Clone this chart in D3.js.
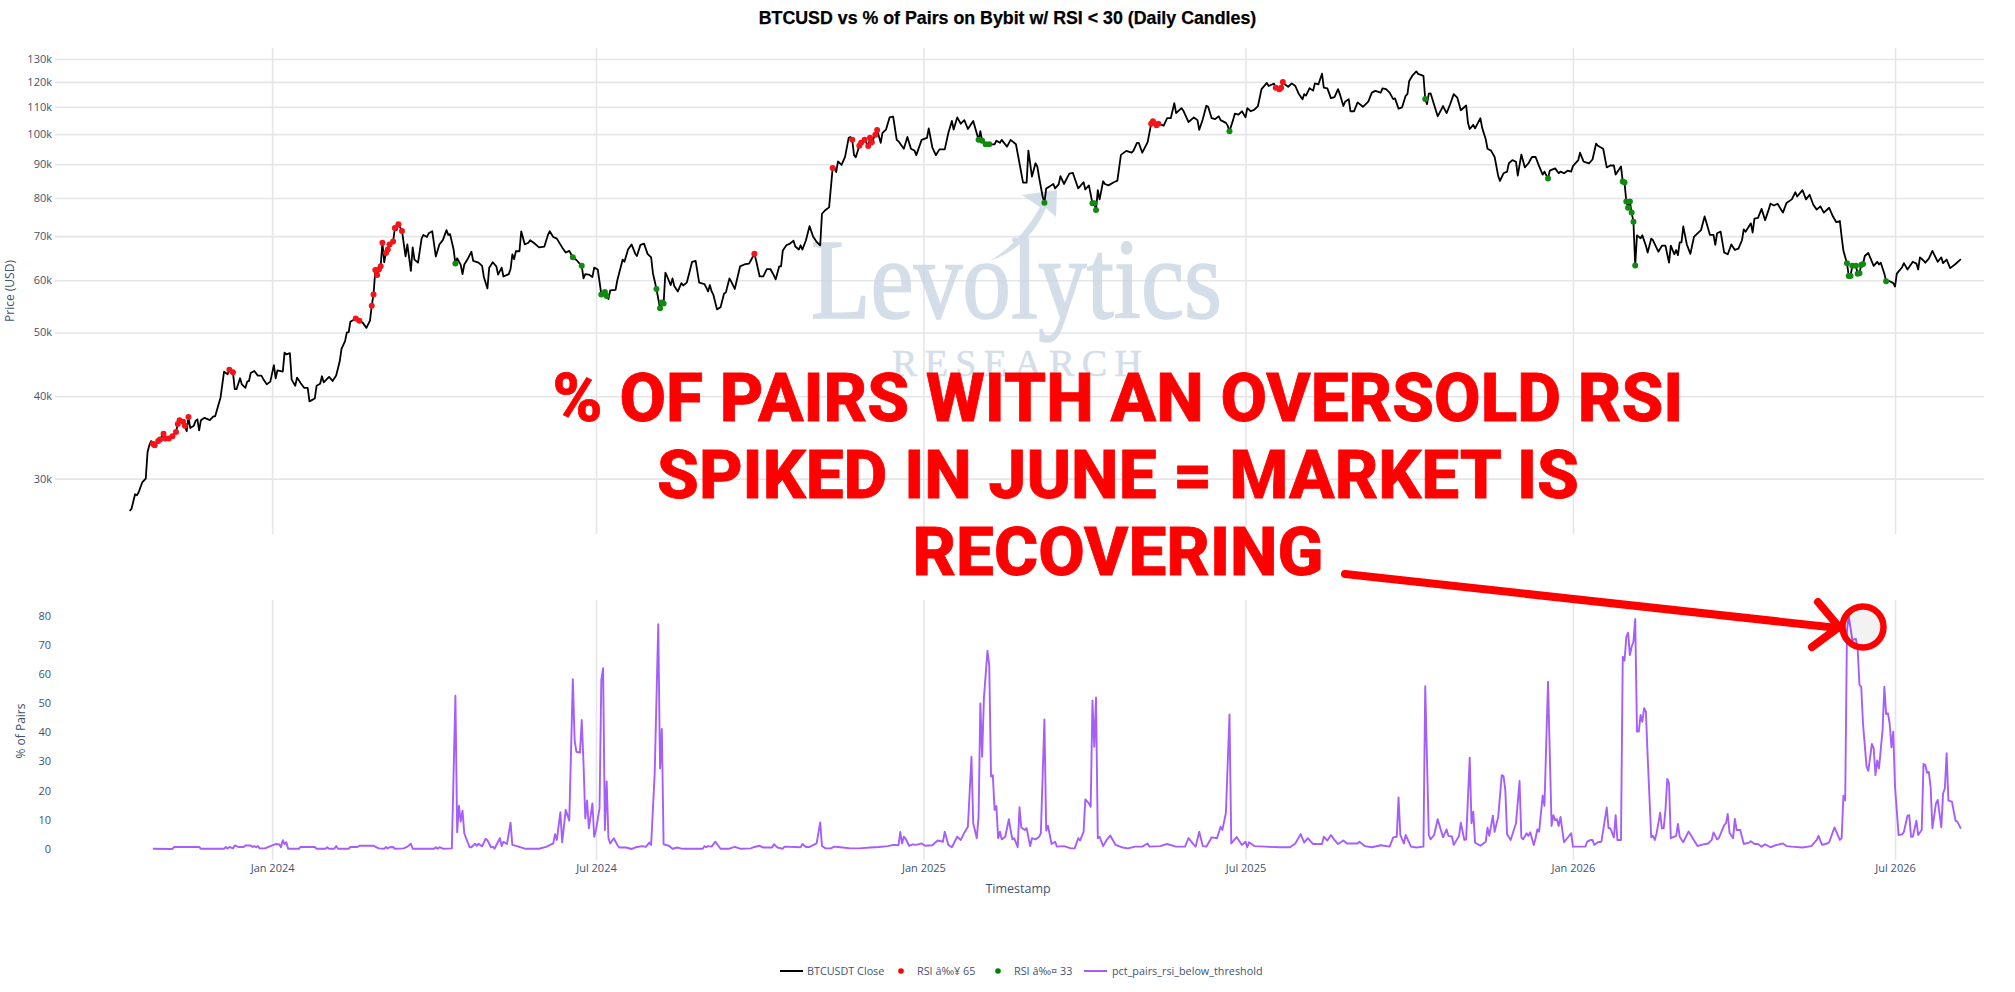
<!DOCTYPE html>
<html><head><meta charset="utf-8">
<style>html,body{margin:0;padding:0;background:#fff}svg{display:block}</style>
<script src="https://cdnjs.cloudflare.com/ajax/libs/d3/7.8.5/d3.min.js"></script>
</head><body><div id="chart"></div>
<script>
// [days since 2024-01-01, BTCUSDT close in thousands of USD]
const btcClose = [[-80,26.8],[-79,27],[-77,28.4],[-76,28.3],[-75,28.6],[-73,29.6],[-71,30],[-70,32.9],[-69,33.7],[-68,34.2],[-67,33.9],[-66,33.7],[-64,34.2],[-63,34.4],[-61,35.1],[-60,34.5],[-58,34.5],[-56,34.8],[-54,35.3],[-53,36.3],[-52,36.8],[-50,36.6],[-49,36.1],[-48,35.4],[-47,37.2],[-46,35.8],[-44,36.1],[-43,36.7],[-42,36.9],[-41,35.5],[-40,36.8],[-38,37.1],[-35,36.8],[-33,37.3],[-32,37.3],[-29,39.8],[-27,43.6],[-25,43.2],[-24,43.9],[-22,43.5],[-21,41],[-20,41],[-18,42.6],[-17,41.7],[-15,41.2],[-14,42.1],[-13,42.2],[-12,43.4],[-10,43.7],[-8,43],[-6,43],[-5,42.5],[-3,41.7],[-1,42.1],[1,44.6],[2,42.6],[3,43.8],[6,43.6],[7,46.6],[8,46.3],[10,46.5],[11,42.4],[13,41.5],[14,42.7],[16,41.9],[18,41.2],[20,41.2],[21,39.3],[24,39.7],[25,41.5],[27,41.8],[28,42.9],[29,42],[32,42.8],[34,42.2],[36,43],[38,45.2],[39,47.2],[41,48.5],[42,50],[43,50],[44,51.9],[47,52.5],[49,52.1],[51,51.7],[53,50.8],[55,52.1],[56,54.9],[57,57.1],[58,62.2],[59,61.1],[60,62.3],[61,63],[62,68.4],[63,63.9],[64,66],[65,66.8],[66,68],[68,68.7],[69,72],[70,71.5],[71,73],[73,71.3],[75,65.2],[76,68],[78,62],[79,67.3],[80,64.5],[82,63.8],[84,69.4],[85,70.3],[87,69.8],[88,70.7],[90,71.2],[92,65.2],[94,68],[96,69.1],[98,71.5],[99,70.3],[100,70.5],[102,66.8],[103,63.6],[104,64.8],[106,63.3],[107,61.3],[108,63.4],[110,64.7],[112,66.3],[113,64.2],[116,63.8],[118,63.1],[119,60.7],[121,58.3],[122,62.7],[124,63.9],[126,63],[127,61.2],[129,62.7],[130,60.8],[133,61.3],[134,62.4],[135,65.7],[136,64.6],[137,66.4],[139,66.4],[140,71.2],[142,68],[144,68.4],[145,69],[147,68.4],[150,67.3],[153,67.5],[155,70.3],[156,71.2],[158,69.8],[160,69.4],[163,67.3],[165,66.1],[167,66.5],[169,65],[171,64.4],[174,63.1],[175,60.4],[176,61.3],[178,61.2],[180,60.7],[181,62.7],[183,62.3],[184,59.7],[185,57.1],[187,57.6],[188,56.8],[189,56.2],[190,57.9],[193,58],[194,60],[197,64.5],[198,64],[200,66.8],[202,68],[204,65.9],[205,65.3],[207,67.9],[209,68.2],[211,65.8],[213,65],[214,61.5],[216,58.2],[218,54.4],[219,55.5],[220,55.3],[221,61.6],[222,60.8],[224,59],[225,60.4],[226,58.8],[228,57.7],[230,59.4],[231,58.9],[233,59.5],[234,60.9],[236,64],[238,64.2],[240,59.5],[243,59.2],[245,57.7],[246,59],[247,57.7],[248,57],[250,54.2],[252,54.6],[254,57.3],[255,57.5],[257,60.4],[258,59.7],[260,58.2],[263,63],[266,63.5],[268,63.6],[269,64.3],[271,65.8],[272,64.3],[274,60.8],[276,60.8],[278,62.4],[280,62.4],[282,61],[283,60.2],[285,63],[286,63],[287,66.6],[289,67.8],[291,68.2],[293,68.9],[294,67.5],[296,66.8],[297,67.8],[298,66.8],[300,69],[302,72.5],[304,69.9],[306,68.6],[308,67.8],[309,75.7],[311,76.7],[313,77.4],[315,88.8],[316,88.9],[317,87.6],[318,90.9],[320,89.8],[322,92.4],[324,98.7],[325,99],[326,98],[327,93],[328,92.2],[330,96],[331,97],[333,98],[335,95.9],[336,98.7],[337,97.2],[339,99.8],[340,101.4],[342,97],[343,100.4],[345,101.6],[347,106],[349,106.3],[351,98],[352,97.5],[355,95],[357,99],[359,95],[361,94.4],[362,92.9],[365,98],[368,98.7],[369,102],[371,95.5],[373,92.9],[375,94.8],[378,94.8],[380,100.4],[382,104.7],[383,101.6],[385,106],[387,103.7],[389,105],[391,101.8],[394,104.7],[397,98],[398,101],[399,97.7],[401,96.5],[403,96.5],[406,96.5],[407,97.7],[409,97],[410,98],[413,95.7],[415,98],[417,97],[418,96.5],[420,90.3],[422,84.4],[424,84.4],[425,94.4],[427,86.2],[429,90.3],[430,89.3],[431,86],[433,80.4],[434,78.7],[435,82.7],[437,83.3],[439,84],[440,82.7],[442,83.9],[443,86.3],[445,84],[448,87.1],[450,87.3],[453,82.7],[456,84.5],[457,82.4],[459,83.6],[461,78.5],[462,78.5],[463,76.7],[464,82.2],[465,79.6],[467,84.8],[468,84],[470,83.6],[473,84.5],[475,85],[477,93],[480,94.3],[483,93.7],[484,94.3],[486,97],[487,97],[489,93.7],[492,97.2],[494,103.7],[495,104.6],[497,103.1],[498,103.7],[501,103],[503,105.7],[505,105.7],[507,111.4],[508,107.6],[511,109.5],[512,108.6],[515,104.3],[518,106],[520,105],[521,101.5],[523,105.3],[525,110.4],[526,110],[528,105.7],[530,105.4],[532,106.4],[533,105],[536,104],[537,103],[538,101],[540,105],[541,107.4],[543,107],[545,108.3],[547,106],[548,109.5],[550,108.3],[552,108.9],[554,110.3],[556,117],[559,119.6],[560,118.3],[563,119.3],[564,117.6],[566,117],[567,117.6],[568,120],[569,119],[571,118],[573,119.4],[575,118.3],[577,115],[579,112.9],[580,115],[581,114.4],[583,117.4],[585,116.4],[586,119.4],[588,119],[590,123.5],[591,117.6],[593,117.3],[595,113.4],[597,113.8],[599,117],[600,115],[602,110.3],[603,112],[605,113],[606,108.3],[608,108.3],[610,111.7],[613,110],[616,112],[618,115.6],[620,116.3],[623,115.6],[624,117.3],[626,117],[628,115.6],[630,113],[631,113.3],[633,109.3],[635,109.8],[637,114.3],[638,115],[639,120.4],[641,122.9],[643,124.5],[644,123.4],[647,122.6],[648,113],[649,111],[650,115.2],[651,115.3],[655,106.4],[657,108.9],[658,110.3],[660,107.6],[662,111],[664,115],[666,113.6],[668,108.7],[671,110.5],[672,104],[673,101.8],[675,103.3],[676,102],[679,105.7],[680,102.2],[682,98.2],[683,95],[685,94.4],[687,92.3],[689,86.4],[690,84.9],[692,87.2],[694,87.7],[695,90.3],[697,91.3],[699,90.8],[700,86.5],[702,93.1],[704,89],[706,90.3],[708,92.3],[710,92.3],[712,89.4],[714,86.8],[715,87.7],[717,85.6],[718,88],[721,88.7],[723,87.2],[724,87.7],[726,87.2],[728,88],[730,87.7],[731,89.4],[734,91.3],[735,93.7],[737,90.8],[740,90.3],[742,91.5],[744,96.7],[745,96],[748,95],[750,89],[752,89.6],[754,89.6],[755,86.8],[758,89.3],[759,84.7],[760,84.4],[761,79],[762,77.3],[763,79],[764,76],[765,73.6],[766,63.2],[767,70.2],[769,69.5],[770,70.2],[772,67.7],[773,66.1],[775,69.4],[776,69],[779,66.3],[781,67.7],[783,67.7],[785,63.8],[786,67.7],[788,65.7],[789,66.7],[790,65.5],[791,68.5],[792,68.5],[793,72.4],[795,68],[797,65.8],[799,69.8],[801,70.7],[803,71.5],[805,75],[806,73.4],[808,70.3],[810,70.3],[811,67.9],[812,70.7],[814,71.1],[816,66.1],[818,65.7],[820,68],[822,66.7],[824,67],[826,69],[827,71.7],[828,71.1],[831,73.2],[832,70.9],[833,74.4],[835,74.6],[837,77],[839,74],[841,76.8],[842,78.4],[844,77.9],[846,78.4],[849,76],[851,78.6],[854,79.6],[856,81.6],[857,80.4],[860,82.2],[862,79.6],[864,80.9],[866,78.2],[868,76.8],[870,77.7],[872,76],[875,77.3],[877,75.1],[879,73.5],[881,73.8],[882,69.8],[883,66.5],[885,63.7],[886,60.9],[887,60.9],[888,63.1],[890,63.1],[891,61.4],[892,61.5],[893,63.3],[894,63.5],[895,65.3],[897,66],[898,65],[900,63.1],[902,64],[903,63.4],[904,63.8],[906,61.4],[907,59.8],[909,59.8],[911,59.4],[912,58.7],[913,61.4],[916,62.8],[917,63.7],[919,62.3],[922,64],[924,63.6],[925,62.3],[926,65],[928,64.3],[929,63.8],[931,64.7],[933,66.5],[936,64],[938,65],[939,63.7],[941,64.5],[943,62.6],[946,63.5],[949,64.6]];

const rsiHighDays = [-67,-66,-64,-63,-61,-60,-58,-56,-54,-53,-52,-50,-49,-47,-24,-22,47,49,56,57,58,59,60,61,62,64,65,66,68,69,71,73,271,315,326,330,331,333,335,336,337,339,340,494,495,497,498,564,566,567,568];
const rsiLowDays = [103,169,174,185,187,188,216,218,219,220,397,399,401,403,434,461,462,463,538,648,717,759,760,761,762,763,764,765,766,885,886,887,888,890,891,892,893,894,907];

// [days since 2024-01-01, % of pairs with RSI below threshold]
const pctPairs = [[-67,.1],[-56,0],[-55,.7],[-41,.7],[-40,.1],[-27,.1],[-26,.7],[-25,.2],[-24,.7],[-22,.2],[-21,1.2],[-19,.7],[-16,.7],[-15,1.2],[-12,1.2],[-11,.7],[-10,1],[-9,.6],[-8,1],[-7,.2],[-4,.2],[-1,1],[2,1.7],[4,1.6],[5,.6],[6,3],[7,1.7],[8,2.3],[9,.1],[15,.1],[16,.7],[24,.7],[25,.1],[30,.1],[31,.6],[32,.1],[35,.1],[36,1],[37,.1],[43,.1],[44,.7],[48,.7],[49,1.1],[57,1.1],[60,.2],[63,.1],[64,.7],[65,.2],[66,.6],[68,.7],[69,.1],[74,.2],[76,.8],[78,1.8],[79,.1],[91,.1],[92,.6],[93,.1],[94,.6],[96,.1],[101,.2],[103,52.5],[104,5.7],[105,14.8],[106,9.4],[107,13.1],[108,5.4],[109,3.7],[111,.6],[112,.6],[114,1.8],[115,1.1],[116,1.8],[118,.9],[120,3.5],[121,3],[123,.6],[124,.8],[125,.1],[128,3.7],[129,1],[130,2.5],[132,1.7],[134,9],[135,1.4],[138,.9],[142,.1],[150,.1],[154,.7],[156,1.3],[158,1.9],[159,5.1],[160,3.1],[162,12.6],[163,2.3],[165,13.4],[167,9.7],[169,58.2],[170,37.3],[171,33.3],[173,33],[174,44.2],[175,29.3],[176,10.5],[177,16.6],[178,7.1],[180,15.6],[181,4.2],[182,6.5],[184,13.9],[185,57.9],[186,61.9],[187,6.5],[188,23.1],[189,3.7],[190,1.9],[192,3.7],[194,1.4],[195,.5],[199,.5],[202,0],[205,.7],[208,1],[210,.7],[212,2.2],[213,1.4],[215,25.9],[217,77],[218,27.6],[219,41.1],[220,1.6],[223,1.1],[225,.1],[228,.5],[230,.1],[242,.1],[243,1],[244,.6],[245,1],[247,.8],[249,2.5],[252,.1],[257,.1],[260,.7],[263,.1],[269,.2],[271,.7],[274,1.1],[276,.5],[281,.5],[282,1.6],[284,.5],[287,.1],[288,.8],[297,.6],[298,1.7],[300,.7],[302,.7],[306,1.9],[308,9.1],[309,1],[311,.2],[314,.2],[316,.8],[318,.7],[325,.2],[330,.2],[336,.5],[341,.7],[346,1],[349,1.4],[352,1.3],[353,5.8],[354,1.9],[355,4.2],[356,3.5],[358,1.1],[360,1.6],[362,1.4],[365,1.9],[367,1.1],[371,1.3],[374,2.9],[377,2.5],[378,5.9],[380,1.4],[382,.6],[385,4.2],[387,3.1],[389,5.6],[391,7.6],[393,31.6],[394,8.8],[396,3.7],[397,11],[398,49.9],[399,31.6],[400,51.6],[402,67.9],[403,63],[404,24.8],[405,25.3],[406,13.4],[407,14.7],[408,3.7],[409,5.9],[410,3.3],[412,4.2],[414,10.2],[415,6.5],[416,3.3],[417,3.7],[419,.6],[420,14.3],[421,7.4],[423,6.5],[424,7.1],[426,1],[427,3.7],[429,3.3],[431,4.2],[432,5.4],[434,44.4],[435,6.3],[436,8],[438,1.7],[440,2.5],[441,.8],[445,1],[449,.2],[451,.2],[453,3.7],[454,2.9],[456,5.9],[457,17],[459,15.6],[460,14.5],[461,50.8],[462,35],[463,51.9],[464,3.7],[465,4.2],[467,1],[469,3.1],[471,4.6],[474,1.4],[478,.5],[481,.2],[485,.8],[489,.8],[492,1.9],[493,.8],[499,1],[503,1.7],[508,.8],[513,.8],[515,3.7],[518,1.4],[519,.8],[521,5.9],[523,1],[525,.8],[528,4],[531,3.7],[533,7.6],[534,6.5],[536,12.4],[538,46.1],[539,1.9],[542,4.1],[545,1.4],[547,2.5],[548,.6],[549,2.3],[552,1],[558,.8],[566,.6],[572,.6],[575,1.9],[578,5.1],[580,2.2],[582,3.7],[585,1.7],[590,1.7],[591,4.2],[593,2.9],[595,4.8],[597,3.1],[599,1.7],[602,2.9],[604,1.9],[610,1.9],[611,2.5],[614,1],[618,.6],[623,1.3],[628,.8],[630,4],[632,4.2],[633,17.7],[634,4.8],[636,1.9],[637,4.8],[640,.8],[643,.5],[647,.8],[648,55.8],[650,4.8],[651,3.3],[653,4.8],[655,10.2],[658,4],[660,6.7],[661,4.5],[663,4.3],[664,1.4],[667,4.5],[668,9],[670,3.1],[671,3.3],[673,31.3],[674,8.8],[675,12.8],[676,2.2],[679,1.1],[682,2.5],[683,7.3],[684,4.5],[686,11.4],[687,5.9],[689,11],[691,25.3],[692,25],[693,20.2],[694,5.1],[696,3.1],[699,8.8],[701,23.3],[702,4],[703,3.3],[705,5.4],[706,4.5],[707,5.7],[709,1.4],[710,3.7],[711,6.7],[712,5.9],[714,18.3],[715,14.8],[717,57.3],[719,7.9],[720,11.6],[721,9.9],[722,10.2],[723,7.9],[724,11],[726,2.3],[730,5.4],[731,.8],[738,.8],[739,2.5],[741,3.1],[742,3.1],[743,1.4],[745,2.3],[747,2.5],[750,14.2],[751,7.1],[752,7.1],[754,4],[755,11.6],[756,3.1],[758,3.1],[759,65.9],[760,64.5],[761,72.7],[762,74.1],[763,66.4],[764,69.3],[765,71],[766,78.8],[767,40.2],[768,40.2],[769,45.9],[770,43.6],[771,48.2],[772,47],[773,31.6],[775,4],[776,4.5],[777,3.1],[778,5.4],[779,8.8],[780,12.4],[781,7.1],[782,7.1],[783,13.4],[784,24],[785,22.5],[786,3.7],[789,4.5],[790,8.6],[791,4.2],[793,2.3],[796,6],[801,1],[803,1.4],[807,1.9],[809,3.1],[810,5.7],[812,3.3],[813,3.7],[816,8.2],[817,8.8],[818,12],[819,5.6],[821,3.7],[822,10.3],[823,6.5],[825,6.5],[827,1.7],[830,2.2],[831,2.7],[833,1.7],[835,1.7],[837,.8],[839,1.6],[842,.6],[845,1.3],[849,1.9],[851,1],[854,.8],[860,.5],[865,1],[868,3.1],[869,4.5],[871,1.4],[873,1.7],[875,2.3],[878,7.4],[881,3.1],[882,3.7],[883,18.3],[884,16.6],[885,75],[886,79.8],[888,71.6],[890,72],[891,68.7],[892,56.2],[893,55.6],[894,43],[896,28.2],[897,26.8],[899,36],[900,34.5],[901,25.3],[902,30.3],[903,27.6],[905,40.8],[906,55.6],[907,46.2],[908,46.5],[909,43],[910,34.8],[911,40.2],[912,21.3],[914,4.8],[916,5],[917,5.9],[919,11.4],[920,11.6],[921,4.2],[922,4.2],[924,9.7],[925,4.8],[927,6.5],[928,29.1],[929,28.8],[930,26.1],[931,26.4],[932,21.3],[933,7.1],[935,15.6],[936,16.8],[937,12.2],[938,7.4],[939,19],[940,20.8],[941,32.8],[942,16.6],[944,16.2],[946,9.7],[947,9.4],[949,7]];

const priceTicks = [30,40,50,60,70,80,90,100,110,120,130];
const pctTicks = [0,10,20,30,40,50,60,70,80];
const dateTicks = ["2024-01-01","2024-07-01","2025-01-01","2025-07-01","2026-01-01","2026-07-01"];
const titleText = "BTCUSD vs % of Pairs on Bybit w/ RSI < 30 (Daily Candles)";
const noteLines = ["% OF PAIRS WITH AN OVERSOLD RSI","SPIKED IN JUNE = MARKET IS","RECOVERING"];
const legendItems = [
  {label:"BTCUSDT Close",kind:"line",color:"#000000",x:780,tx:807},
  {label:"RSI â‰¥ 65",kind:"dot",color:"#ff0000",x:901,tx:917},
  {label:"RSI â‰¤ 33",kind:"dot",color:"#008000",x:998,tx:1014},
  {label:"pct_pairs_rsi_below_threshold",kind:"line",color:"#a55efb",x:1084,tx:1112}
];

const W=2015,H=992, font='"Open Sans",sans-serif', ink="#3f5272", grid="#e6e6ea";
const base=Date.UTC(2024,0,1), toDate=d=>new Date(base+d*864e5);
const plot={l:55,r:1984,t1:48,b1:534,t2:600,b2:860};
const x=d3.scaleUtc().domain([toDate(-122),toDate(962)]).range([plot.l,plot.r]);
const yP=d3.scaleLog().domain([24.72,135.1]).range([plot.b1,plot.t1]);
const yR=d3.scaleLinear().domain([-3.77,85.3]).range([plot.b2,plot.t2]);

const svg=d3.select("#chart").append("svg").attr("width",W).attr("height",H).style("background","#fff");

function styleAxis(g){
  g.select(".domain").remove();
  g.selectAll(".tick line").attr("stroke",grid).attr("stroke-width",1.6);
  g.selectAll(".tick text").attr("font-family",font).attr("font-size",11).attr("fill",ink);
}
const parsed=dateTicks.map(s=>new Date(s+"T00:00:00Z"));
const fmtDate=d3.utcFormat("%b %Y");
// horizontal grid + tick labels
svg.append("g").attr("transform",`translate(${plot.l},0)`)
  .call(d3.axisLeft(yP).tickValues(priceTicks).tickSize(-(plot.r-plot.l)).tickPadding(3).tickFormat(d=>d+"k")).call(styleAxis);
svg.append("g").attr("transform",`translate(${plot.l},0)`)
  .call(d3.axisLeft(yR).tickValues(pctTicks).tickSize(0).tickPadding(4).tickFormat(d=>d)).call(styleAxis);
// vertical grid
svg.append("g").attr("transform",`translate(0,${plot.b1})`)
  .call(d3.axisBottom(x).tickValues(parsed).tickSize(-(plot.b1-plot.t1)).tickFormat("")).call(styleAxis);
svg.append("g").attr("transform",`translate(0,${plot.b2})`)
  .call(d3.axisBottom(x).tickValues(parsed).tickSize(-(plot.b2-plot.t2)).tickPadding(4).tickFormat(fmtDate)).call(styleAxis);

// watermark
const wm=svg.append("g").attr("fill","#c9d5e3").attr("stroke","#c9d5e3").attr("opacity",.78);
wm.append("text").text("Levolytics").attr("x",811).attr("y",318).attr("stroke-width",1.6).attr("font-family",'"Liberation Serif",serif').attr("font-size",114).attr("textLength",411).attr("lengthAdjust","spacingAndGlyphs");
wm.append("text").text("RESEARCH").attr("x",892).attr("y",376).attr("stroke-width",.5).attr("font-family",'"Liberation Serif",serif').attr("font-size",38).attr("textLength",250).attr("lengthAdjust","spacing");
wm.append("path").attr("stroke","none").attr("d","M990,261 C1015,245 1030,225 1040,207 L1022,195 L1057,190 L1056,217 L1046,208 C1035,235 1015,252 990,261 Z");

// series
const byDay=(a,b)=>d3.ascending(a[0],b[0]);
const price=btcClose.slice().sort(byDay), pct=pctPairs.slice().sort(byDay);
const linePrice=d3.line().x(d=>x(toDate(d[0]))).y(d=>yP(d[1]));
const linePct=d3.line().x(d=>x(toDate(d[0]))).y(d=>yR(d[1]));
svg.append("path").datum(price).attr("d",linePrice).attr("fill","none").attr("stroke","#000").attr("stroke-width",1.8).attr("stroke-linejoin","round");
const at=day=>{const i=d3.bisector(d=>d[0]).center(price,day);return price[i];};
svg.append("g").selectAll("circle").data(rsiHighDays.map(at)).join("circle")
  .attr("cx",d=>x(toDate(d[0]))).attr("cy",d=>yP(d[1])).attr("r",3).attr("fill","#f5141a");
svg.append("g").selectAll("circle").data(rsiLowDays.map(at)).join("circle")
  .attr("cx",d=>x(toDate(d[0]))).attr("cy",d=>yP(d[1])).attr("r",3).attr("fill","#108a10");
svg.append("path").datum(pct).attr("d",linePct).attr("fill","none").attr("stroke","#a55efb").attr("stroke-width",1.9).attr("stroke-linejoin","round");

// titles
svg.append("text").text(titleText).attr("x",1007.5).attr("y",23.5).attr("text-anchor","middle").attr("font-family",'"Liberation Sans",Arial,sans-serif').attr("font-weight",700).attr("font-size",17.8).attr("fill","#000").attr("stroke","#000").attr("stroke-width",.25);
svg.append("text").text("Price (USD)").attr("transform","translate(14,291) rotate(-90)").attr("text-anchor","middle").attr("font-family",font).attr("font-size",12).attr("fill",ink);
svg.append("text").text("% of Pairs").attr("transform","translate(25,731) rotate(-90)").attr("text-anchor","middle").attr("font-family",font).attr("font-size",12).attr("fill",ink);
svg.append("text").text("Timestamp").attr("x",1018).attr("y",893).attr("text-anchor","middle").attr("font-family",font).attr("font-size",12.5).attr("fill",ink);

// legend
const leg=svg.append("g");
legendItems.forEach(it=>{
  if(it.kind==="line") leg.append("line").attr("x1",it.x).attr("x2",it.x+23).attr("y1",971).attr("y2",971).attr("stroke",it.color).attr("stroke-width",2);
  else leg.append("circle").attr("cx",it.x).attr("cy",971).attr("r",2.8).attr("fill",it.color);
  leg.append("text").text(it.label).attr("x",it.tx).attr("y",975).attr("font-family",font).attr("font-size",10.8).attr("fill",ink);
});

// annotation
svg.append("g").selectAll("text").data(noteLines).join("text").text(d=>d)
  .attr("x",1118).attr("y",(d,i)=>421+i*77).attr("text-anchor","middle").attr("font-family","Roboto,sans-serif").attr("font-weight",800).attr("font-size",67.5).attr("fill","#ff0000").attr("stroke","#ff0000").attr("stroke-width",.8);
const ann=svg.append("g").attr("fill","none").attr("stroke","#ff0000").attr("stroke-width",8).attr("stroke-linecap","round").attr("stroke-linejoin","round");
ann.append("circle").attr("cx",1863).attr("cy",627).attr("r",20.5).attr("fill","rgba(0,0,0,.05)").attr("stroke-width",6.5);
ann.append("path").attr("d","M1345,574 L1838,628");
ann.append("path").attr("d","M1818,602 L1839,627 L1812,647");
</script></body></html>
